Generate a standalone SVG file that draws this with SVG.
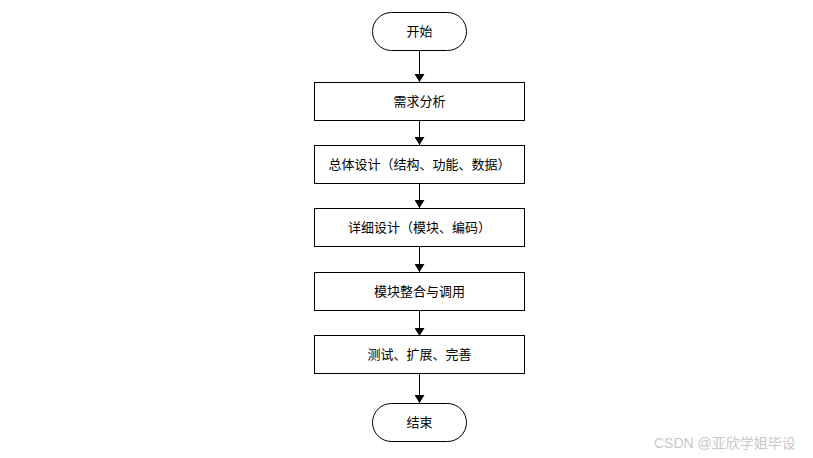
<svg xmlns="http://www.w3.org/2000/svg" width="813" height="458" viewBox="0 0 813 458">
<style>
.box{fill:#fff;stroke:#000;stroke-width:1}
.t{font-family:"Liberation Sans","Noto Sans CJK SC",sans-serif;font-size:13px;fill:#000;text-anchor:middle;dominant-baseline:central}
.c{stroke:#000;stroke-width:1;fill:none;marker-end:url(#ah)}
.wm{font-family:"Liberation Sans","Noto Sans CJK SC",sans-serif;font-size:14px;fill:#c8c8c8}
</style>
<defs>
<marker id="ah" markerWidth="8" markerHeight="10" refX="8" refY="5" orient="auto" markerUnits="userSpaceOnUse">
<path d="M0,0 L8,5 L0,10 z" fill="#000"/>
</marker>
</defs>
<rect width="813" height="458" fill="#fff"/>
<g id="connectors">
<line class="c" x1="419.5" y1="50" x2="419.5" y2="82"/>
<line class="c" x1="419.5" y1="120" x2="419.5" y2="145"/>
<line class="c" x1="419.5" y1="183" x2="419.5" y2="208"/>
<line class="c" x1="419.5" y1="246" x2="419.5" y2="272"/>
<line class="c" x1="419.5" y1="310" x2="419.5" y2="336"/>
<line class="c" x1="419.5" y1="373" x2="419.5" y2="403"/>
</g>
<g id="start">
<rect class="box" x="372.5" y="12.5" width="94" height="38" rx="19" ry="19"/>
<text class="t" x="419.5" y="31">开始</text>
</g>
<g id="n1">
<rect class="box" x="314.5" y="82.5" width="210" height="38"/>
<text class="t" x="419.5" y="101">需求分析</text>
</g>
<g id="n2">
<rect class="box" x="314.5" y="145.5" width="210" height="38"/>
<text class="t" x="419.5" y="164">总体设计（结构、功能、数据）</text>
</g>
<g id="n3">
<rect class="box" x="314.5" y="208.5" width="210" height="38"/>
<text class="t" x="419.5" y="227">详细设计（模块、编码）</text>
</g>
<g id="n4">
<rect class="box" x="314.5" y="272.5" width="210" height="38"/>
<text class="t" x="419.5" y="291">模块整合与调用</text>
</g>
<g id="n5">
<rect class="box" x="314.5" y="335.5" width="210" height="38"/>
<text class="t" x="419.5" y="354">测试、扩展、完善</text>
</g>
<g id="end">
<rect class="box" x="372.5" y="403.5" width="94" height="38" rx="19" ry="19"/>
<text class="t" x="419.5" y="422">结束</text>
</g>
<text class="wm" x="654" y="448">CSDN @亚欣学姐毕设</text>
</svg>
